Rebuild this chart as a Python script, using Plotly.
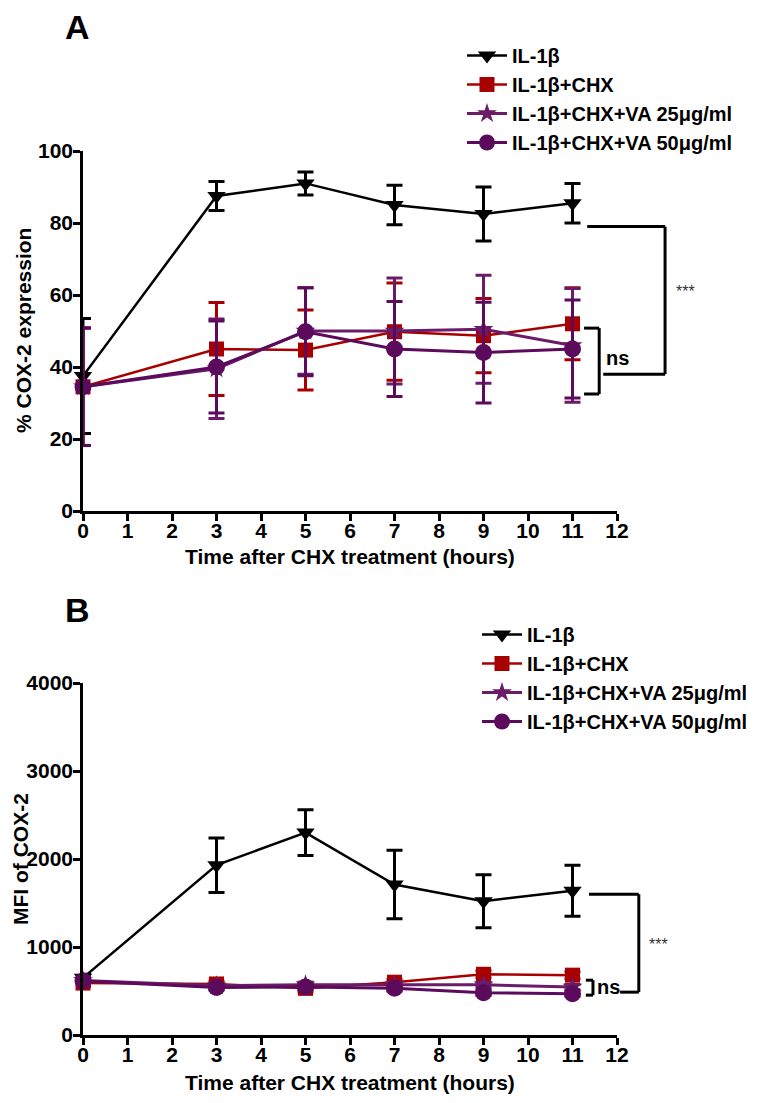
import plotly.graph_objects as go

# page body has an 8px margin, so the figure is 8px smaller than the window
W, H = 750, 1095
OFF = 8

hours = [0, 3, 5, 7, 9, 11]
x_ticks = list(range(0, 13))
a_yticks = [0, 20, 40, 60, 80, 100]
b_yticks = [0, 1000, 2000, 3000, 4000]

names = ['IL-1β', 'IL-1β+CHX', 'IL-1β+CHX+VA 25μg/ml', 'IL-1β+CHX+VA 50μg/ml']

# panel A: % COX-2 expression
a_il1b = [37.5, 87.5, 91.0, 85.0, 82.5, 85.5]
a_il1b_err = [16.0, 4.0, 3.2, 5.5, 7.5, 5.5]
a_chx = [34.5, 45.0, 44.7, 49.8, 48.7, 52.0]
a_chx_err = [16.3, 12.9, 11.1, 13.5, 10.3, 10.0]
a_va25 = [34.5, 39.5, 50.0, 50.0, 50.5, 46.0]
a_va25_err = [16.3, 13.8, 12.0, 14.7, 15.0, 15.8]
a_va50 = [34.5, 40.0, 49.8, 45.0, 44.0, 45.0]
a_va50_err = [16.3, 12.8, 12.2, 13.2, 14.0, 13.6]

# panel B: MFI of COX-2
b_il1b = [650, 1930, 2300, 1710, 1520, 1640]
b_il1b_err = [40, 310, 260, 390, 300, 290]
b_chx = [590, 580, 530, 600, 690, 680]
b_chx_err = [40, 30, 40, 30, 40, 40]
b_va25 = [620, 560, 570, 570, 570, 545]
b_va25_err = [40, 30, 30, 30, 30, 30]
b_va50 = [614, 540, 545, 530, 480, 470]
b_va50_err = [40, 30, 30, 30, 30, 30]

colors = ['#000000', '#A80000', '#6A1B6A', '#5C0B5C']
symbols = ['triangle-down', 'square', 'star', 'circle']
sizes = [16, 15, 15, 17]
widths = [2.5, 2.5, 3, 3]

FONT = 'Liberation Sans'


def px(x):
    return (x - OFF) / W


def py(y):
    return 1 - (y - OFF) / H


fig = go.Figure()

panels = [
    ('x', 'y', 'legend', [a_il1b, a_chx, a_va25, a_va50],
     [a_il1b_err, a_chx_err, a_va25_err, a_va50_err]),
    ('x2', 'y2', 'legend2', [b_il1b, b_chx, b_va25, b_va50],
     [b_il1b_err, b_chx_err, b_va25_err, b_va50_err]),
]

for xa, ya, leg, series, errs in panels:
    for i in range(4):
        fig.add_trace(go.Scatter(
            x=hours, y=series[i], name=names[i], xaxis=xa, yaxis=ya, legend=leg,
            mode='lines+markers', cliponaxis=False,
            line=dict(color=colors[i], width=widths[i]),
            marker=dict(symbol=symbols[i], size=sizes[i], color=colors[i]),
            error_y=dict(type='data', array=errs[i], color=colors[i], thickness=3, width=8),
        ))

tick_font = dict(family=FONT, size=21, color='black', weight='bold')
axis_common = dict(showline=True, linecolor='black', linewidth=2.5, ticks='outside',
                   ticklen=7, tickwidth=2.5, tickcolor='black', showgrid=False,
                   zeroline=False, tickfont=tick_font)

x_dom = [px(83), px(617)]
legend_font = dict(family=FONT, size=20, color='black', weight='bold')
fig.update_layout(
    width=W, height=H,
    margin=dict(l=0, r=0, t=0, b=0, autoexpand=False),
    plot_bgcolor='white', paper_bgcolor='white',
    xaxis=dict(domain=x_dom, anchor='y', range=[0, 12], tickvals=x_ticks,
               ticklabelstandoff=-8, **axis_common),
    yaxis=dict(domain=[py(511), py(151)], anchor='x', range=[0, 100], tickvals=a_yticks,
               ticklabelstandoff=-4, **axis_common),
    xaxis2=dict(domain=x_dom, anchor='y2', range=[0, 12], tickvals=x_ticks,
                ticklabelstandoff=-8, **axis_common),
    yaxis2=dict(domain=[py(1035), py(683)], anchor='x2', range=[0, 4000], tickvals=b_yticks,
                ticklabelstandoff=-4, **axis_common),
    legend=dict(x=px(462), y=py(36), xanchor='left', yanchor='top', itemwidth=40,
                bgcolor='rgba(0,0,0,0)', font=legend_font),
    legend2=dict(x=px(477), y=py(615), xanchor='left', yanchor='top', itemwidth=40,
                 bgcolor='rgba(0,0,0,0)', font=legend_font),
)

# significance brackets, in data units (x hours, y value)
brackets = [
    # xa, ya, ymax, sig bracket (x_top, y_top, x_vert, x_bot, y_bot),
    # ns bracket (x_arm, x_vert, y_hi, y_lo), ns label, star label
    ('x', 'y', 100, (11.33, 79, 13.08, 11.69, 38), (11.26, 11.6, 50.8, 32.5), (12.0, 42.5), (13.55, 61)),
    ('x2', 'y2', 4000, (11.37, 1600, 12.49, 12.07, 487), (11.30, 11.46, 623, 453), (11.80, 540), (12.93, 1030)),
]

for xa, ya, ymax, sig, ns, ns_lab, st_lab in brackets:
    def seg(x0, y0, x1, y1):
        fig.add_shape(type='line', xref=xa + ' domain', yref=ya + ' domain',
                      x0=x0 / 12, x1=x1 / 12, y0=y0 / ymax, y1=y1 / ymax,
                      line=dict(color='black', width=3))
    xt, yt, xv, xb, yb = sig
    seg(xt, yt, xv, yt)
    seg(xv, yt, xv, yb)
    seg(xb, yb, xv, yb)
    xarm, xvn, yhi, ylo = ns
    seg(xarm, yhi, xvn, yhi)
    seg(xvn, yhi, xvn, ylo)
    seg(xarm, ylo, xvn, ylo)
    fig.add_annotation(xref=xa + ' domain', yref=ya + ' domain', x=ns_lab[0] / 12, y=ns_lab[1] / ymax,
                       text='ns', showarrow=False, xanchor='center', yanchor='middle',
                       font=dict(family=FONT, size=20, color='black', weight='bold'))
    fig.add_annotation(xref=xa + ' domain', yref=ya + ' domain', x=st_lab[0] / 12, y=st_lab[1] / ymax,
                       text='***', showarrow=False, xanchor='center', yanchor='middle',
                       font=dict(family=FONT, size=16, color='#333333'))

# axis titles and panel letters
title_font = dict(family=FONT, size=21, color='black', weight='bold')
letter_font = dict(family=FONT, size=34, color='black', weight='bold')
texts = [
    ('% COX-2 expression', 24, 331, -90, title_font),
    ('Time after CHX treatment (hours)', 350, 556, 0, title_font),
    ('MFI of COX-2', 20, 859, -90, title_font),
    ('Time after CHX treatment (hours)', 350, 1082, 0, title_font),
    ('A', 77, 27, 0, letter_font),
    ('B', 77, 610, 0, letter_font),
]
for t, x, y, ang, f in texts:
    fig.add_annotation(xref='paper', yref='paper', x=px(x), y=py(y), text=t, textangle=ang,
                       showarrow=False, xanchor='center', yanchor='middle', font=f)

fig.write_html('out.html')
